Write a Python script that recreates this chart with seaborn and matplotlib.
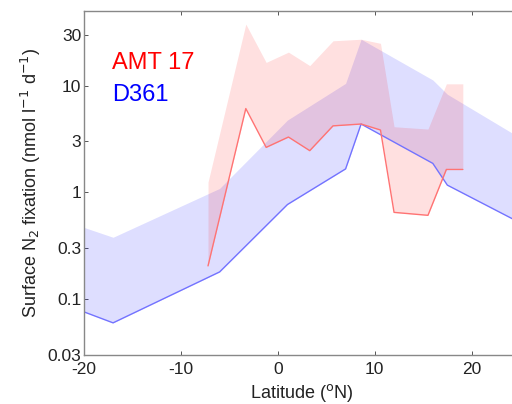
import numpy as np
import pandas as pd
import matplotlib
matplotlib.use("Agg")
import matplotlib.pyplot as plt
import seaborn as sns

# AMT 17 cruise: lower and upper surface N2 fixation estimates
amt_lat = [-7.2, -3.3, -1.2, 1.1, 3.3, 5.7, 8.6, 10.6, 12.0, 15.5, 17.4, 19.1]
amt_low = [0.205, 6.1, 2.64, 3.3, 2.46, 4.2, 4.37, 3.84, 0.65, 0.61, 1.64, 1.64]
amt_high = [1.25, 37.7, 16.5, 20.6, 15.4, 26.3, 27.2, 24.9, 4.12, 3.92, 10.4, 10.4]

# D361 cruise
d361_lat = [-20, -17, -6, 1, 7, 8.6, 16, 17.5, 25]
d361_low = [0.076, 0.060, 0.18, 0.77, 1.66, 4.37, 1.87, 1.17, 0.52]
d361_high = [0.47, 0.38, 1.09, 4.76, 10.5, 27.2, 11.3, 8.3, 3.25]

y_ticks = [0.03, 0.1, 0.3, 1, 3, 10, 30]
y_ticklabels = ["0.03", "0.1", "0.3", "1", "3", "10", "30"]
x_ticks = [-20, -10, 0, 10, 20]

sns.set_style("ticks")
plt.rcParams["font.family"] = ["Liberation Sans", "DejaVu Sans"]
plt.rcParams["xtick.direction"] = "in"
plt.rcParams["ytick.direction"] = "in"

amt = pd.DataFrame({"lat": amt_lat, "low": amt_low, "high": amt_high})
d361 = pd.DataFrame({"lat": d361_lat, "low": d361_low, "high": d361_high})

fig = plt.figure(figsize=(5.12, 4.04), dpi=100)
ax = fig.add_axes([84 / 512, 49 / 404, 436 / 512, 344 / 404])

ax.fill_between(d361["lat"], d361["low"], d361["high"], color="blue", alpha=0.13, linewidth=0)
ax.fill_between(amt["lat"], amt["low"], amt["high"], color="red", alpha=0.12, linewidth=0)
sns.lineplot(data=d361, x="lat", y="low", ax=ax, color=(0.45, 0.45, 1.0), linewidth=1.0)
sns.lineplot(data=amt, x="lat", y="low", ax=ax, color=(1.0, 0.45, 0.45), linewidth=1.0)

ax.set_yscale("log")
ax.set_xlim(-20, 25)
ax.set_ylim(0.03, 50)
ax.set_yticks(y_ticks)
ax.set_yticklabels(y_ticklabels)
ax.set_xticks(x_ticks)
ax.set_xticklabels([str(t) for t in x_ticks])
ax.minorticks_off()
ax.tick_params(axis="both", labelsize=12.5, length=3, width=0.7, color="#555555",
               labelcolor="#222222", top=True, right=False)
ax.tick_params(axis="y", pad=2)
ax.tick_params(axis="x", pad=5)
for side in ["left", "bottom", "top"]:
    ax.spines[side].set_color("#888888")
    ax.spines[side].set_linewidth(1.0)
ax.spines["right"].set_visible(False)

ax.set_xlabel("Latitude ($^{\\mathrm{o}}$N)", fontsize=13, color="#222222", labelpad=4)
ax.set_ylabel("Surface N$_2$ fixation (nmol l$^{-1}$ d$^{-1}$)", fontsize=13,
              color="#222222", labelpad=3)

ax.text(0.064, 0.849, "AMT 17", color="red", fontsize=17, transform=ax.transAxes,
        va="center", ha="left")
ax.text(0.064, 0.755, "D361", color="blue", fontsize=17, transform=ax.transAxes,
        va="center", ha="left")

fig.savefig("out.png", dpi=100)
